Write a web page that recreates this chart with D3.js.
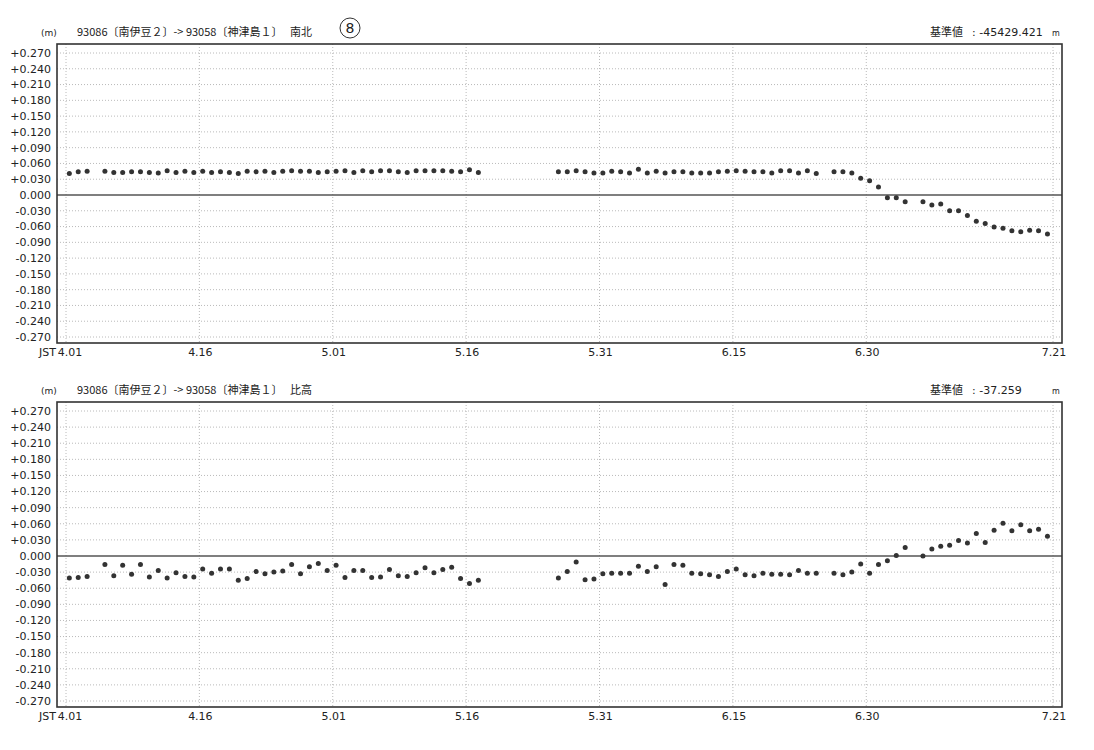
<!DOCTYPE html>
<head>
    <meta charset="utf-8">
    <script src="https://d3js.org/d3.v7.min.js"></script>
    <style>
        body { margin: 0; background: #fff; }
        text { font-family: "DejaVu Sans", "Noto Sans CJK JP", sans-serif; fill: #222; }
        .jp { font-family: "Noto Sans CJK JP", sans-serif; }
    </style>
</head>
<body>

<svg width="1094" height="750"></svg>

<script>

    // observation days (offset from 4.01, JST)
    var days = [0, 1, 2,
        4, 5, 6, 7, 8, 9, 10, 11, 12, 13, 14, 15, 16, 17, 18, 19, 20, 21, 22, 23, 24, 25,
        26, 27, 28, 29, 30, 31, 32, 33, 34, 35, 36, 37, 38, 39, 40, 41, 42, 43, 44, 45, 46,
        55, 56, 57, 58, 59, 60, 61, 62, 63, 64, 65, 66, 67, 68, 69, 70, 71, 72, 73, 74,
        75, 76, 77, 78, 79, 80, 81, 82, 83, 84,
        86, 87, 88, 89, 90, 91, 92, 93, 94,
        96, 97, 98, 99, 100, 101, 102, 103, 104, 105, 106, 107, 108, 109, 110];

    // 南北 component (m)
    var northSouth = [0.041, 0.044, 0.045,
        0.045, 0.043, 0.043, 0.044, 0.044, 0.043, 0.042, 0.046, 0.043, 0.045,
        0.043, 0.045, 0.043, 0.044, 0.043, 0.041, 0.045, 0.044, 0.045, 0.043,
        0.045, 0.046, 0.045, 0.045, 0.043, 0.044, 0.045, 0.046, 0.043, 0.046,
        0.044, 0.046, 0.046, 0.044, 0.043, 0.046, 0.046, 0.046, 0.046, 0.045,
        0.044, 0.048, 0.043,
        0.044, 0.044, 0.046, 0.044, 0.042, 0.042, 0.045, 0.044, 0.042, 0.049,
        0.042, 0.045, 0.042, 0.044, 0.044, 0.042, 0.042, 0.042, 0.044, 0.045,
        0.046, 0.045, 0.044, 0.044, 0.042, 0.046, 0.046, 0.042, 0.046, 0.041,
        0.044, 0.044, 0.042, 0.032, 0.027, 0.015, -0.005, -0.005, -0.013,
        -0.013, -0.019, -0.017, -0.030, -0.030, -0.039, -0.050, -0.054, -0.061,
        -0.063, -0.068, -0.070, -0.067, -0.068, -0.074];

    // 比高 component (m)
    var height = [-0.041, -0.040, -0.038,
        -0.016, -0.037, -0.017, -0.034, -0.016, -0.039, -0.027, -0.041, -0.031, -0.038,
        -0.039, -0.024, -0.032, -0.024, -0.024, -0.045, -0.042, -0.029, -0.033, -0.030,
        -0.028, -0.016, -0.033, -0.020, -0.014, -0.027, -0.017, -0.040, -0.027, -0.027,
        -0.040, -0.039, -0.025, -0.037, -0.038, -0.031, -0.022, -0.031, -0.025, -0.021,
        -0.042, -0.051, -0.045,
        -0.041, -0.029, -0.011, -0.044, -0.043, -0.033, -0.032, -0.032, -0.032, -0.019,
        -0.029, -0.020, -0.053, -0.016, -0.017, -0.032, -0.033, -0.035, -0.038, -0.029,
        -0.024, -0.035, -0.037, -0.032, -0.034, -0.034, -0.035, -0.027, -0.032, -0.032,
        -0.032, -0.035, -0.030, -0.015, -0.032, -0.016, -0.009, 0.001, 0.016,
        0.000, 0.013, 0.018, 0.020, 0.029, 0.024, 0.042, 0.025, 0.048, 0.061,
        0.047, 0.058, 0.047, 0.050, 0.037];

    var tickDays = [0, 15, 30, 45, 60, 75, 90, 111];
    var tickLabels = ["4.01", "4.16", "5.01", "5.16", "5.31", "6.15", "6.30", "7.21"];

    var yTicks = [0.27, 0.24, 0.21, 0.18, 0.15, 0.12, 0.09, 0.06, 0.03, 0,
        -0.03, -0.06, -0.09, -0.12, -0.15, -0.18, -0.21, -0.24, -0.27];

    var svg = d3.select("svg");

    var frameLeft = 57, frameRight = 1062;

    // x scale in days; points sit at 09:00 JST (00:00 UTC)
    var x = d3.scaleLinear()
        .domain([0, 111])
        .range([66, 1053]);

    function fmt(v) {
        var s = Math.abs(v).toFixed(3);
        if (v > 0.0001) return "+" + s;
        if (v < -0.0001) return "-" + s;
        return s;
    }

    function drawPanel(frameTop, frameBottom, values, component, baseValue) {

        var y = d3.scaleLinear()
            .domain([-0.27, 0.27])
            .range([frameBottom - 6, frameTop + 9]);

        var g = svg.append("g");

        // header
        var hy = frameTop - 8;
        g.append("text").attr("x", 41).attr("y", hy).attr("font-size", 9).text("(m)");
        g.append("text").attr("class", "jp").attr("x", 77).attr("y", hy)
            .attr("font-size", 11).text("93086〔南伊豆２〕-> 93058〔神津島１〕");
        g.append("text").attr("class", "jp").attr("x", 290).attr("y", hy)
            .attr("font-size", 11).text(component);
        g.append("text").attr("class", "jp").attr("x", 930).attr("y", hy)
            .attr("font-size", 11).text("基準値");
        g.append("text").attr("x", 972).attr("y", hy)
            .attr("font-size", 11).text(":  " + baseValue);
        g.append("text").attr("x", 1052).attr("y", hy)
            .attr("font-size", 8).text("m");

        // horizontal grid
        g.selectAll(".hgrid")
            .data(yTicks.filter(function(d){ return d !== 0; }))
            .enter()
            .append("line")
            .attr("x1", frameLeft)
            .attr("x2", frameRight)
            .attr("y1", function(d){ return y(d); })
            .attr("y2", function(d){ return y(d); })
            .attr("stroke", "#a8a8a8")
            .attr("stroke-width", 0.8)
            .attr("stroke-dasharray", "1,2");

        // vertical grid
        g.selectAll(".vgrid")
            .data(tickDays)
            .enter()
            .append("line")
            .attr("x1", function(d){ return x(d); })
            .attr("x2", function(d){ return x(d); })
            .attr("y1", frameTop)
            .attr("y2", frameBottom)
            .attr("stroke", "#a8a8a8")
            .attr("stroke-width", 0.8)
            .attr("stroke-dasharray", "1,2");

        // zero line
        g.append("line")
            .attr("x1", frameLeft)
            .attr("x2", frameRight)
            .attr("y1", y(0))
            .attr("y2", y(0))
            .attr("stroke", "#555")
            .attr("stroke-width", 1.3);

        // frame
        g.append("rect")
            .attr("x", frameLeft)
            .attr("y", frameTop)
            .attr("width", frameRight - frameLeft)
            .attr("height", frameBottom - frameTop)
            .attr("fill", "none")
            .attr("stroke", "#333")
            .attr("stroke-width", 1.6);

        // y labels
        g.selectAll(".ylab")
            .data(yTicks)
            .enter()
            .append("text")
            .attr("x", 51)
            .attr("y", function(d){ return y(d); })
            .attr("dy", "0.35em")
            .attr("text-anchor", "end")
            .attr("font-size", 11)
            .text(function(d){ return fmt(d); });

        // x labels
        g.selectAll(".xlab")
            .data(tickDays)
            .enter()
            .append("text")
            .attr("x", function(d, i){ return x(d) + (i === 0 ? 4 : 1); })
            .attr("y", frameBottom + 13)
            .attr("text-anchor", "middle")
            .attr("font-size", 11)
            .text(function(d, i){ return tickLabels[i]; });

        g.append("text")
            .attr("x", x(0) - 10)
            .attr("y", frameBottom + 13)
            .attr("text-anchor", "end")
            .attr("font-size", 11)
            .text("JST");

        // dots
        g.selectAll(".dot")
            .data(values)
            .enter()
            .append("circle")
            .attr("cx", function(d, i){ return x(days[i] + 0.375); })
            .attr("cy", function(d){ return y(d); })
            .attr("r", 2.5)
            .attr("fill", "#333");
    }

    drawPanel(44, 343, northSouth, "南北", "-45429.421");
    drawPanel(402, 707, height, "比高", "-37.259");

    // sheet number
    svg.append("circle")
        .attr("cx", 350)
        .attr("cy", 28)
        .attr("r", 10)
        .attr("fill", "none")
        .attr("stroke", "#333")
        .attr("stroke-width", 1);
    svg.append("text")
        .attr("x", 350)
        .attr("y", 33)
        .attr("text-anchor", "middle")
        .attr("font-size", 14)
        .text("8");

</script>
</body>
